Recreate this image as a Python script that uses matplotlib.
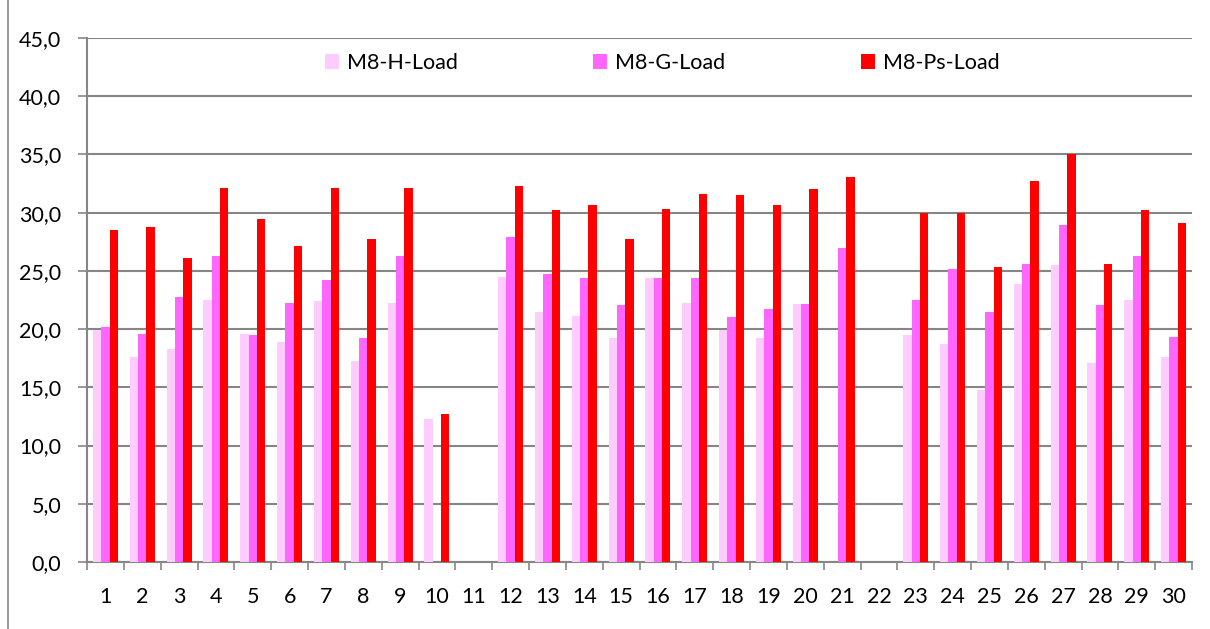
import matplotlib.pyplot as plt
from matplotlib.lines import Line2D
import numpy as np

plt.rcParams['font.family'] = ['Lato', 'DejaVu Sans']

days = list(range(1, 31))
h_load = [19.9, 17.6, 18.3, 22.5, 19.6, 18.9, 22.4, 17.3, 22.2, 12.3,
          0, 24.5, 21.5, 21.1, 19.2, 24.4, 22.2, 19.9, 19.2, 22.15,
          0, 0, 19.5, 18.7, 14.8, 23.9, 25.5, 17.1, 22.5, 17.6]
g_load = [20.2, 19.6, 22.8, 26.3, 19.5, 22.2, 24.2, 19.2, 26.3, 0,
          0, 27.9, 24.7, 24.35, 22.1, 24.4, 24.4, 21.0, 21.7, 22.15,
          27.0, 0, 22.5, 25.15, 21.5, 25.6, 28.9, 22.1, 26.3, 19.35]
ps_load = [28.55, 28.8, 26.1, 32.15, 29.45, 27.1, 32.1, 27.7, 32.1, 12.7,
           0, 32.3, 30.2, 30.65, 27.75, 30.3, 31.6, 31.55, 30.65, 32.05,
           33.1, 0, 30.0, 30.0, 25.3, 32.75, 35.05, 25.55, 30.25, 29.1]
series = [("M8-H-Load", h_load, "#FFCCFF"),
          ("M8-G-Load", g_load, "#FF66FF"),
          ("M8-Ps-Load", ps_load, "#FF0000")]

fig = plt.figure(figsize=(12.1, 6.29), dpi=100)
ax = fig.add_axes([87 / 1210, 1 - 562 / 629, (1192 - 87) / 1210, (562 - 38) / 629])

x = np.arange(len(days))
w = 0.225
for i, (name, vals, col) in enumerate(series):
    ax.bar(x + (i - 1) * w, vals, width=w, color=col, label=name, zorder=3)

ax.set_xlim(-0.5, len(days) - 0.5)
ax.set_ylim(0, 45)
yt = np.arange(0, 46, 5)
ax.set_yticks(yt)
ax.set_yticklabels([f"{v:.1f}".replace(".", ",") for v in yt])
ax.yaxis.grid(True, color="#868686", linewidth=1.5, zorder=0)

ax.set_xticks(x)
ax.set_xticklabels(days)
ax.set_xticks(np.arange(-0.5, len(days)), minor=True)
ax.tick_params(axis="x", which="major", length=0, pad=18, labelsize=15.5)
ax.tick_params(axis="x", which="minor", length=6, width=1.2, color="#868686")
ax.tick_params(axis="y", length=6.5, width=1.2, color="#868686", labelsize=15.5, pad=12)

for s in ["top", "right"]:
    ax.spines[s].set_visible(False)
for s in ["left", "bottom"]:
    ax.spines[s].set_color("#868686")
    ax.spines[s].set_linewidth(1.5)

leg = ax.legend(loc="center", bbox_to_anchor=(662 / 1210, 1 - 63 / 629),
                bbox_transform=fig.transFigure, ncol=3, frameon=False,
                fontsize=15.5, columnspacing=6.3, handlelength=0.65, handleheight=0.65,
                handletextpad=0.37, borderpad=0)

# chart area border on the left
fig.add_artist(Line2D([8 / 1210, 8 / 1210], [0, 1], transform=fig.transFigure,
                      color="#868686", linewidth=1.2))

fig.savefig("out.png", dpi=100)
